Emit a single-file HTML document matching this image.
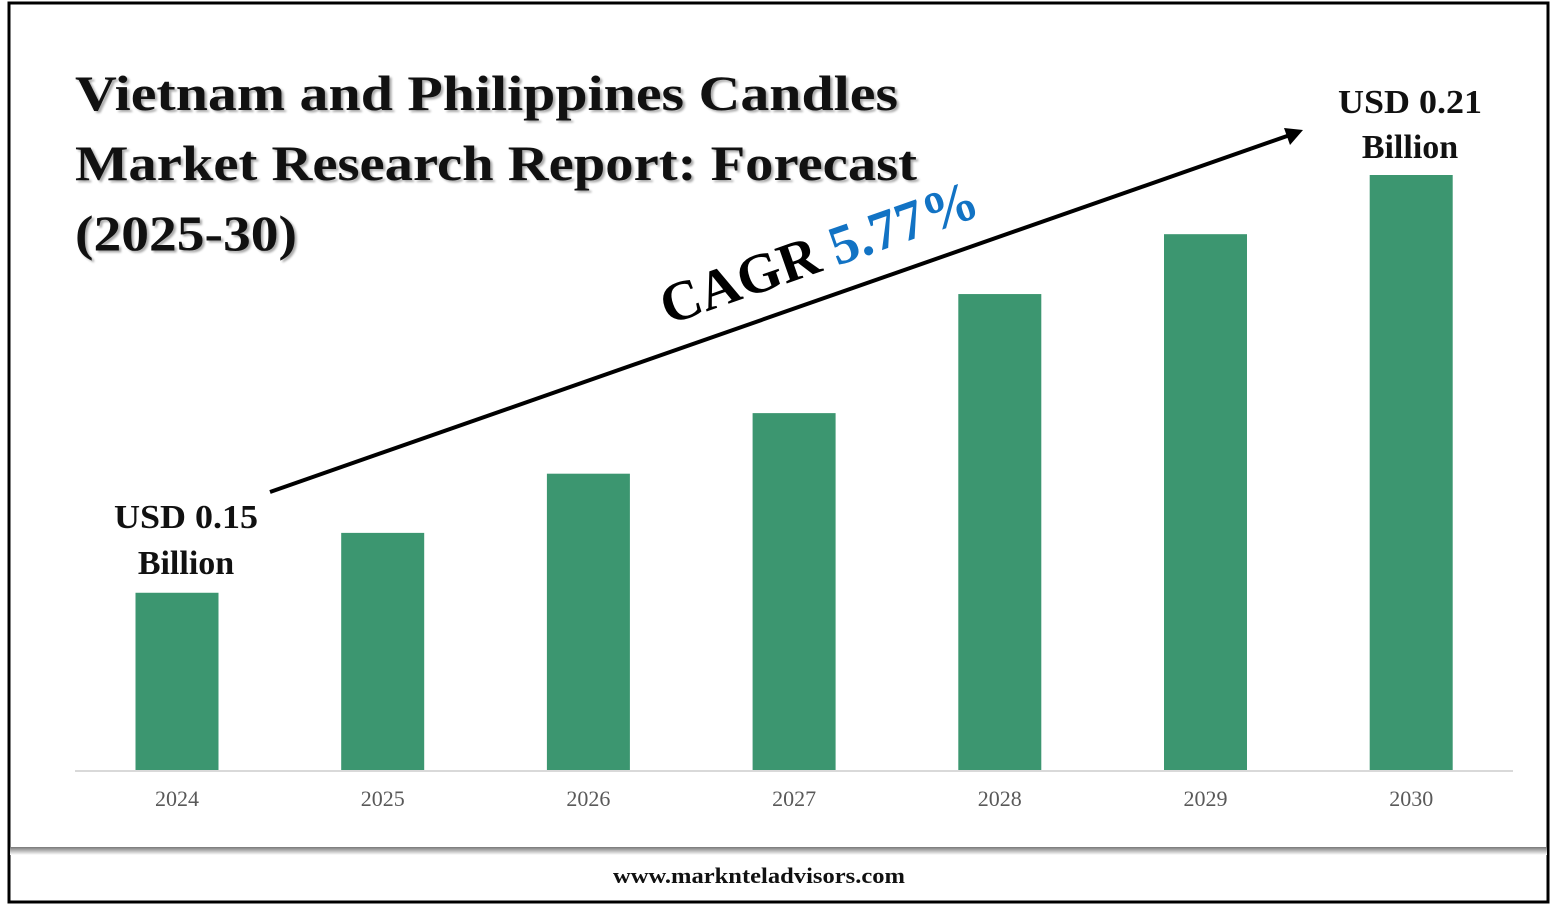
<!DOCTYPE html>
<html><head><meta charset="utf-8"><style>
body{margin:0;width:1557px;height:906px;background:#fff;overflow:hidden;font-family:"Liberation Serif",serif}
</style></head><body>
<svg width="1557" height="906">
<rect x="9" y="3" width="1539" height="899" fill="#fff" stroke="#000" stroke-width="3"/>
<defs><linearGradient id="sh" x1="0" y1="0" x2="0" y2="1"><stop offset="0" stop-color="#777"/><stop offset="1" stop-color="#fff"/></linearGradient></defs>
<rect x="10" y="847" width="1537" height="8" fill="url(#sh)"/>
<g id="title" font-weight="bold" font-size="50" fill="#111" style="text-shadow:2px 2px 2px #aaa">
<text x="75" y="110" textLength="823" lengthAdjust="spacingAndGlyphs">Vietnam and Philippines Candles</text>
<text x="75" y="180" textLength="842" lengthAdjust="spacingAndGlyphs">Market Research Report: Forecast</text>
<text x="75" y="250" textLength="222" lengthAdjust="spacingAndGlyphs">(2025-30)</text>
</g>
<line x1="75" y1="771" x2="1513" y2="771" stroke="#d9d9d9" stroke-width="2"/>
<g id="bars"></g>
<g id="labels" font-size="22" fill="#595959" text-anchor="middle"></g>
<line x1="270" y1="492" x2="1290" y2="135" stroke="#000" stroke-width="4"/>
<polygon points="1303,130 1284,128 1290,145" fill="#000"/>
<text transform="translate(668,325) rotate(-19.3)" font-size="56" font-weight="bold" fill="#000">CAGR <tspan fill="#1273c4">5.77%</tspan></text>
<g font-size="34" font-weight="bold" fill="#111" text-anchor="middle">
<text x="186" y="528" textLength="144" lengthAdjust="spacingAndGlyphs">USD 0.15</text>
<text x="186" y="574">Billion</text>
<text x="1410" y="113" textLength="144" lengthAdjust="spacingAndGlyphs">USD 0.21</text>
<text x="1410" y="158">Billion</text>
</g>
<text x="759" y="883" font-size="22" font-weight="bold" text-anchor="middle" textLength="292" lengthAdjust="spacingAndGlyphs" fill="#111">www.marknteladvisors.com</text>
</svg>
<script>
const categories=["2024","2025","2026","2027","2028","2029","2030"];
const values=[0.150,0.1586,0.1671,0.1758,0.1929,0.2015,0.210];
const base=771, x0=177, step=205.7, bw=83;
const v0=0.1244, k=(771-175)/(0.210-0.1244);
function y(v){return base-(v-v0)*k;}
function x(i){return x0+i*step;}
const NS="http://www.w3.org/2000/svg";
const bars=document.getElementById('bars'), labels=document.getElementById('labels');
categories.forEach((c,i)=>{
 const r=document.createElementNS(NS,'rect');
 r.setAttribute('x',x(i)-bw/2);r.setAttribute('width',bw);
 r.setAttribute('y',y(values[i]));r.setAttribute('height',base-1-y(values[i]));
 r.setAttribute('fill','#3c9670');
 
 
 bars.appendChild(r);
 const t=document.createElementNS(NS,'text');
 t.setAttribute('x',x(i));t.setAttribute('y',806);t.textContent=c;
 
 
 labels.appendChild(t);
});
</script>
</body></html>
